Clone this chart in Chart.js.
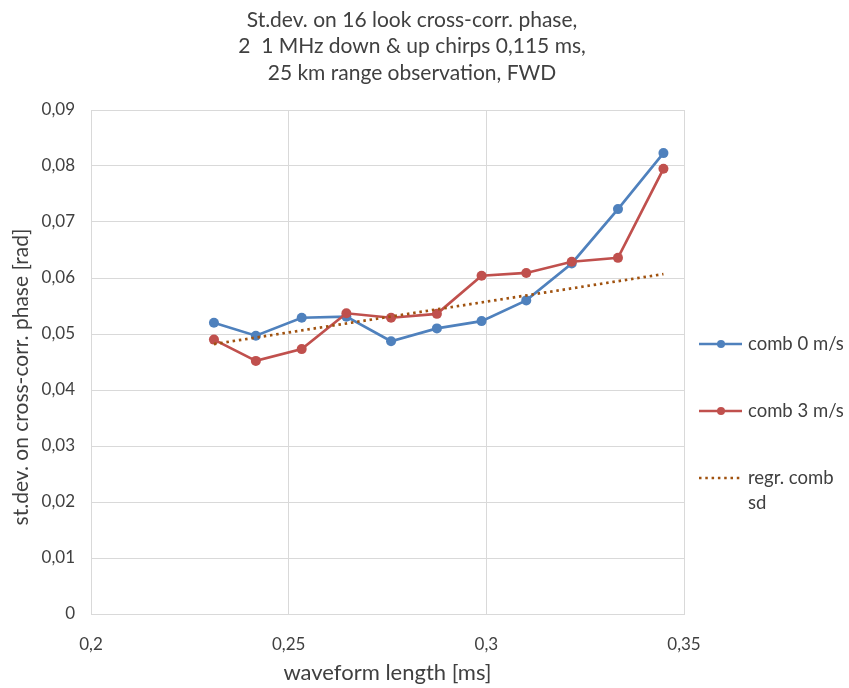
<!DOCTYPE html>
<html>
<head>
<meta charset="utf-8">
<script src="https://cdn.jsdelivr.net/npm/chart.js@4"></script>
<style>
  html, body { margin: 0; padding: 0; background: #ffffff; }
  #wrap { width: 849px; height: 688px; }
</style>
</head>
<body>
<div id="wrap"><canvas id="chart" width="849" height="688"></canvas></div>
<script>
// Waveform length [ms] for each measurement
const waveformLength = [0.2311, 0.2417, 0.2533, 0.2646, 0.2759, 0.2875, 0.2988, 0.3101, 0.3216, 0.3333, 0.3448];
// Standard deviation of cross-correlation phase [rad]
const comb0 = [0.0520, 0.0497, 0.0529, 0.0531, 0.0487, 0.0510, 0.0523, 0.0560, 0.0626, 0.0723, 0.0823];
const comb3 = [0.0490, 0.0452, 0.0473, 0.0537, 0.0529, 0.0536, 0.0604, 0.0609, 0.0629, 0.0636, 0.0795];
// Regression line end points
const regrX = [0.2311, 0.3448];
const regrY = [0.0482, 0.0607];

const seriesNames = ['comb 0 m/s', 'comb 3 m/s', 'regr. comb sd'];
const titleLines = ['St.dev. on 16 look cross-corr. phase,', '2  1 MHz down & up chirps 0,115 ms,', '25 km range observation, FWD'];
const xTitle = 'waveform length [ms]';
const yTitle = 'st.dev. on cross-corr. phase [rad]';
const xTicks = [0.2, 0.25, 0.3, 0.35];
const yTicks = [0, 0.01, 0.02, 0.03, 0.04, 0.05, 0.06, 0.07, 0.08, 0.09];

const FONT = 'Lato, "Open Sans", sans-serif';
const TEXT = '#404040';
const GRID = '#d9d9d9';
const BLUE = '#4f81bd';
const RED = '#c0504d';
const BROWN = '#a0520f';

const toPoints = (xs, ys) => xs.map((x, i) => ({ x: x, y: ys[i] }));
const comma = v => String(Number(v.toFixed(4))).replace('.', ',');

// Draws the three-line title, the vertical axis title and the legend on the right
const decorations = {
  id: 'decorations',
  afterDraw(chart) {
    const ctx = chart.ctx;
    ctx.save();
    ctx.fillStyle = TEXT;
    ctx.font = '21px ' + FONT;
    ctx.textAlign = 'center';
    ctx.textBaseline = 'middle';
    titleLines.forEach((t, i) => ctx.fillText(t, 412, 20 + i * 26.5));

    ctx.save();
    ctx.translate(21, 377);
    ctx.rotate(-Math.PI / 2);
    ctx.font = '21px ' + FONT;
    ctx.fillText(yTitle, 0, 0);
    ctx.restore();

    const items = [
      { y: 344, color: BLUE, marker: true, lines: [seriesNames[0]] },
      { y: 411, color: RED, marker: true, lines: [seriesNames[1]] },
      { y: 478, color: BROWN, marker: false, lines: ['regr. comb', 'sd'] }
    ];
    ctx.font = '18.5px ' + FONT;
    ctx.textAlign = 'left';
    items.forEach(it => {
      ctx.strokeStyle = it.color;
      ctx.fillStyle = it.color;
      ctx.lineWidth = 2.7;
      if (it.marker) {
        ctx.setLineDash([]);
        ctx.beginPath();
        ctx.moveTo(699, it.y);
        ctx.lineTo(742, it.y);
        ctx.stroke();
        ctx.beginPath();
        ctx.arc(721, it.y, 4, 0, Math.PI * 2);
        ctx.fill();
      } else {
        ctx.setLineDash([2.5, 3.8]);
        ctx.beginPath();
        ctx.moveTo(699, it.y);
        ctx.lineTo(741, it.y);
        ctx.stroke();
        ctx.setLineDash([]);
      }
      ctx.fillStyle = TEXT;
      it.lines.forEach((l, i) => ctx.fillText(l, 748, it.y + i * 25));
    });
    ctx.restore();
  }
};

new Chart(document.getElementById('chart'), {
  type: 'scatter',
  data: {
    datasets: [
      {
        label: seriesNames[0],
        data: toPoints(waveformLength, comb0),
        showLine: true,
        borderColor: BLUE,
        backgroundColor: BLUE,
        borderWidth: 2.7,
        pointRadius: 5,
        pointBorderWidth: 0,
        order: 2
      },
      {
        label: seriesNames[1],
        data: toPoints(waveformLength, comb3),
        showLine: true,
        borderColor: RED,
        backgroundColor: RED,
        borderWidth: 2.7,
        pointRadius: 5,
        pointBorderWidth: 0,
        order: 1
      },
      {
        label: seriesNames[2],
        data: toPoints(regrX, regrY),
        showLine: true,
        borderColor: BROWN,
        backgroundColor: BROWN,
        borderWidth: 2.7,
        borderDash: [2.5, 3.8],
        pointRadius: 0,
        order: 0
      }
    ]
  },
  options: {
    responsive: false,
    animation: false,
    devicePixelRatio: 1,
    layout: { padding: { top: 110, right: 165, left: 0, bottom: 0 } },
    plugins: {
      legend: { display: false },
      title: { display: false },
      tooltip: { enabled: false }
    },
    scales: {
      x: {
        type: 'linear',
        min: 0.2,
        max: 0.35,
        afterFit: s => { s.height = 74; },
        afterBuildTicks: s => { s.ticks = xTicks.map(v => ({ value: v })); },
        ticks: {
          padding: 20,
          color: TEXT,
          font: { family: FONT, size: 17 },
          callback: v => comma(v)
        },
        grid: { color: GRID, lineWidth: 1, drawTicks: false },
        border: { color: GRID },
        title: {
          display: true,
          text: xTitle,
          color: TEXT,
          font: { family: FONT, size: 22 },
          padding: { bottom: 2, top: 0 }
        }
      },
      y: {
        type: 'linear',
        min: 0,
        max: 0.09,
        afterFit: s => { s.width = 91; },
        afterBuildTicks: s => { s.ticks = yTicks.map(v => ({ value: v })); },
        ticks: {
          padding: 16,
          color: TEXT,
          font: { family: FONT, size: 17 },
          callback: v => comma(v)
        },
        grid: { color: GRID, lineWidth: 1, drawTicks: false },
        border: { color: GRID }
      }
    }
  },
  plugins: [decorations]
});
</script>
</body>
</html>
